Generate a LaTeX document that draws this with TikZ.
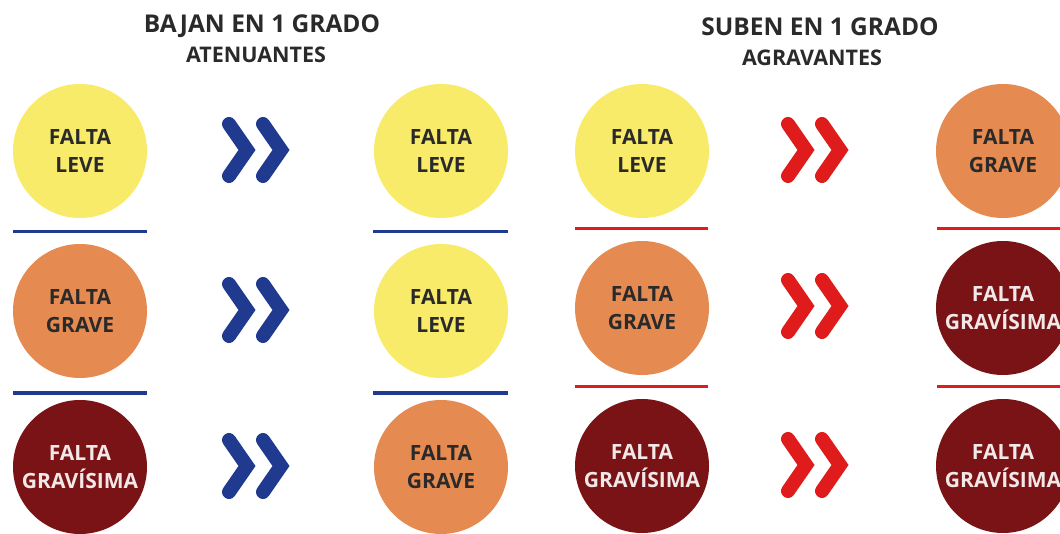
\documentclass[tikz,border=0pt]{standalone}
\usepackage{fontspec}
\setmainfont{Open Sans}
\definecolor{cyel}{HTML}{F9EB6A}
\definecolor{corg}{HTML}{E58A50}
\definecolor{cdrk}{HTML}{7A1316}
\definecolor{cblu}{HTML}{1F3A8F}
\definecolor{cred}{HTML}{E01B1B}
\definecolor{ctxt}{HTML}{2A2A2A}
\definecolor{cwht}{HTML}{F2E8E8}
\tikzset{
  falta/.style={circle, minimum size=134pt, inner sep=0pt, align=center,
    font=\bfseries\fontsize{21}{28}\selectfont},
  leve/.style={falta, fill=cyel, text=ctxt},
  grave/.style={falta, fill=corg, text=ctxt},
  gravis/.style={falta, fill=cdrk, text=cwht},
  title/.style={font=\bfseries\fontsize{24.5}{28}\selectfont, text=ctxt, inner sep=0pt, anchor=base},
  subtitle/.style={font=\bfseries\fontsize{21.5}{26}\selectfont, text=ctxt, inner sep=0pt, anchor=base},
  sepb/.style={draw=cblu, line width=3pt},
  sepr/.style={draw=cred, line width=3pt},
  chev/.style={line width=14pt, line cap=round, line join=miter},
}
\newcommand{\chevpair}[3]{% x, y, color
  \draw[chev, draw=#3] (#1+7,#2-26) -- (#1+25,#2) -- (#1+7,#2+26);
  \draw[chev, draw=#3] (#1+41,#2-26) -- (#1+59,#2) -- (#1+41,#2+26);
}
\begin{document}
\begin{tikzpicture}[x=1pt,y=-1pt]
\useasboundingbox (0,0) rectangle (1060,534);
\clip (0,0) rectangle (1060,534);
\fill[white] (0,0) rectangle (1060,534);
% titles
\node[title] (t1) at (262,33) {BAJAN EN 1 GRADO};
\node[subtitle] (s1) at (256,63) {ATENUANTES};
\node[title] (t2) at (820,36) {SUBEN EN 1 GRADO};
\node[subtitle] (s2) at (812,66) {AGRAVANTES};
% left panel
\node[leve] (a1) at (80,151) {FALTA\\LEVE};
\node[grave] (a2) at (80,311) {FALTA\\GRAVE};
\node[gravis] (a3) at (80,467) {FALTA\\GRAVÍSIMA};
\node[leve] (b1) at (441,151) {FALTA\\LEVE};
\node[leve] (b2) at (441,311) {FALTA\\LEVE};
\node[grave] (b3) at (441,467) {FALTA\\GRAVE};
% right panel
\node[leve] (c1) at (642,151) {FALTA\\LEVE};
\node[grave] (c2) at (642,308) {FALTA\\GRAVE};
\node[gravis] (c3) at (642,466) {FALTA\\GRAVÍSIMA};
\node[grave] (d1) at (1003,151) {FALTA\\GRAVE};
\node[gravis] (d2) at (1003,308) {FALTA\\GRAVÍSIMA};
\node[gravis] (d3) at (1003,466) {FALTA\\GRAVÍSIMA};
% separators
\draw[sepb] (13,232) -- (147,232);
\draw[sepb] (373,232) -- (508,232);
\draw[sepb] (13,393) -- (147,393);
\draw[sepb] (373,393) -- (508,393);
\draw[sepr] (575,229) -- (708,229);
\draw[sepr] (937,229) -- (1060,229);
\draw[sepr] (575,387) -- (708,387);
\draw[sepr] (937,387) -- (1060,387);
% chevrons
\chevpair{222}{150}{cblu}
\chevpair{222}{310}{cblu}
\chevpair{222}{466}{cblu}
\chevpair{781}{150}{cred}
\chevpair{781}{306}{cred}
\chevpair{781}{465}{cred}
\end{tikzpicture}
\end{document}
